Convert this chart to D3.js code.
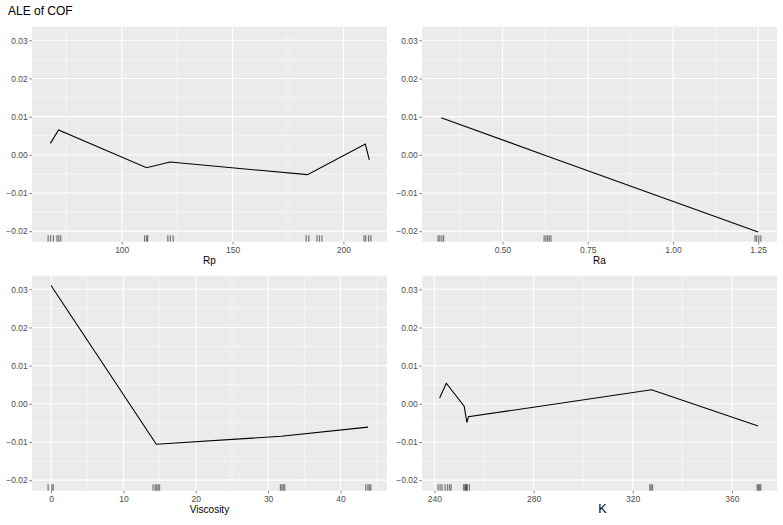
<!DOCTYPE html>
<html>
<head>
<meta charset="utf-8">
<script src="https://cdn.jsdelivr.net/npm/d3@7"></script>
<style>
  body { margin: 0; background: #ffffff; }
  text { font-family: "Liberation Sans", Arial, sans-serif; }
</style>
</head>
<body>
<div id="chart"></div>
<script>
// ALE of COF - four feature panels, shared y scale

// Rp
const rpX = [67.8, 71.5, 111.2, 121.8, 183.8, 209.9, 211.7];
const rpAle = [0.0030, 0.0065, -0.0034, -0.0019, -0.0052, 0.0028, -0.0013];
const rpRug = [66.8, 67.9, 69.2, 70.8, 71.6, 72.5, 110.3, 111.2, 111.7, 120.8, 121.9, 123.2,
               183.2, 184.4, 188.1, 189.2, 190.3, 209.3, 210.1, 211.4, 212.4];
const rpTicks = [100, 150, 200];

// Ra
const raX = [0.32, 0.63, 1.25];
const raAle = [0.0097, -0.0003, -0.0202];
const raRug = [0.311, 0.316, 0.322, 0.327, 0.622, 0.627, 0.632, 0.637, 0.642, 1.241, 1.246, 1.252, 1.258];
const raTicks = [0.50, 0.75, 1.00, 1.25];

// Viscosity
const viscX = [0, 14.55, 31.8, 43.8];
const viscAle = [0.0310, -0.0106, -0.0085, -0.0061];
const viscRug = [-0.4, 0.1, 0.3, 14.1, 14.4, 14.6, 14.8, 15.0, 31.7, 31.9, 32.1, 32.3, 43.5, 43.8, 44.0, 44.2];
const viscTicks = [0, 10, 20, 30, 40];

// K
const kX = [242.1, 244.8, 252.0, 253.1, 253.7, 327.6, 370.6];
const kAle = [0.0015, 0.0054, -0.0006, -0.0049, -0.0034, 0.0037, -0.0058];
const kRug = [241.5, 242.3, 243.1, 244.3, 245.3, 246.1, 246.7, 251.8, 252.3, 252.6, 252.9, 253.3, 254.1,
              326.9, 327.4, 328.0, 370.2, 370.7, 371.2, 371.7];
const kTicks = [240, 280, 320, 360];

const yTicks = [-0.02, -0.01, 0.00, 0.01, 0.02, 0.03];

const W = 783, H = 525;
const svg = d3.select("#chart").append("svg")
    .attr("width", W).attr("height", H)
    .style("background", "#ffffff");

svg.append("text")
    .attr("x", 8).attr("y", 14.5)
    .attr("font-size", "12px")
    .attr("fill", "#000")
    .text("ALE of COF");

const panels = [
    { name: "Rp", xs: rpX, ys: rpAle, rug: rpRug, ticks: rpTicks, fmt: d3.format("d"), left: 32, top: 26.7 },
    { name: "Ra", xs: raX, ys: raAle, rug: raRug, ticks: raTicks, fmt: d3.format(".2f"), left: 422, top: 26.7 },
    { name: "Viscosity", xs: viscX, ys: viscAle, rug: viscRug, ticks: viscTicks, fmt: d3.format("d"), left: 32, top: 275.7 },
    { name: "K", xs: kX, ys: kAle, rug: kRug, ticks: kTicks, fmt: d3.format("d"), left: 422, top: 275.7, serif: true }
];
const pw = 355, ph = 215;

// shared y domain, ggplot style 5% expansion
const allY = [].concat(rpAle, raAle, viscAle, kAle);
const yExt = d3.extent(allY);
const yPad = (yExt[1] - yExt[0]) * 0.05;
const y = d3.scaleLinear().domain([yExt[0] - yPad, yExt[1] + yPad]).range([ph, 0]);

const yMinor = [-0.015, -0.005, 0.005, 0.015, 0.025];
const minusFmt = v => d3.format(".2f")(v).replace("-", "\u2212");

panels.forEach(p => {
    const ext = d3.extent(p.xs.concat(p.rug));
    const pad = (ext[1] - ext[0]) * 0.05;
    const x = d3.scaleLinear().domain([ext[0] - pad, ext[1] + pad]).range([0, pw]);

    const step = p.ticks[1] - p.ticks[0];
    const xMinor = [];
    for (let v = p.ticks[0] - step / 2; v <= x.domain()[1]; v += step) {
        if (v >= x.domain()[0]) xMinor.push(v);
    }

    const g = svg.append("g").attr("transform", `translate(${p.left},${p.top})`);

    g.append("rect").attr("width", pw).attr("height", ph).attr("fill", "#EBEBEB");

    // minor grid
    g.selectAll(".ymin").data(yMinor).enter().append("line")
        .attr("x1", 0).attr("x2", pw)
        .attr("y1", d => y(d)).attr("y2", d => y(d))
        .attr("stroke", "#ffffff").attr("stroke-width", 0.5);
    g.selectAll(".xmin").data(xMinor).enter().append("line")
        .attr("y1", 0).attr("y2", ph)
        .attr("x1", d => x(d)).attr("x2", d => x(d))
        .attr("stroke", "#ffffff").attr("stroke-width", 0.5);

    // major grid
    g.selectAll(".ymaj").data(yTicks).enter().append("line")
        .attr("x1", 0).attr("x2", pw)
        .attr("y1", d => y(d)).attr("y2", d => y(d))
        .attr("stroke", "#ffffff").attr("stroke-width", 1.1);
    g.selectAll(".xmaj").data(p.ticks).enter().append("line")
        .attr("y1", 0).attr("y2", ph)
        .attr("x1", d => x(d)).attr("x2", d => x(d))
        .attr("stroke", "#ffffff").attr("stroke-width", 1.1);

    // rug
    g.selectAll(".rug").data(p.rug).enter().append("line")
        .attr("x1", d => x(d)).attr("x2", d => x(d))
        .attr("y1", ph).attr("y2", ph - ph * 0.03)
        .attr("stroke", "#000").attr("stroke-opacity", 0.5).attr("stroke-width", 1.2);

    // ALE line
    const pts = p.xs.map((v, i) => [v, p.ys[i]]);
    g.append("path")
        .datum(pts)
        .attr("d", d3.line().x(d => x(d[0])).y(d => y(d[1])))
        .attr("fill", "none")
        .attr("stroke", "#000")
        .attr("stroke-width", 1.1);

    // axes
    const xAxis = g.append("g").attr("transform", `translate(0,${ph})`)
        .call(d3.axisBottom(x).tickValues(p.ticks).tickFormat(p.fmt).tickSize(2.75).tickPadding(3));
    const yAxis = g.append("g")
        .call(d3.axisLeft(y).tickValues(yTicks).tickFormat(minusFmt).tickSize(2.75).tickPadding(1.5));
    [xAxis, yAxis].forEach(a => {
        a.select(".domain").remove();
        a.selectAll("line").attr("stroke", "#333333").attr("stroke-width", 0.6);
        a.selectAll("text")
            .attr("fill", "#4D4D4D")
            .attr("font-size", "8.5px")
            .attr("font-family", "Liberation Sans, Arial, sans-serif");
    });

    g.append("text")
        .attr("x", pw / 2 + (p.serif ? 3 : 0))
        .attr("y", ph + 22.5)
        .attr("text-anchor", "middle")
        .attr("font-size", p.serif ? "12.5px" : "10px")
        .attr("font-family", p.serif ? "Liberation Serif, Times New Roman, serif" : "Liberation Sans, Arial, sans-serif")
        .attr("fill", "#000")
        .text(p.name);
});
</script>
</body>
</html>
